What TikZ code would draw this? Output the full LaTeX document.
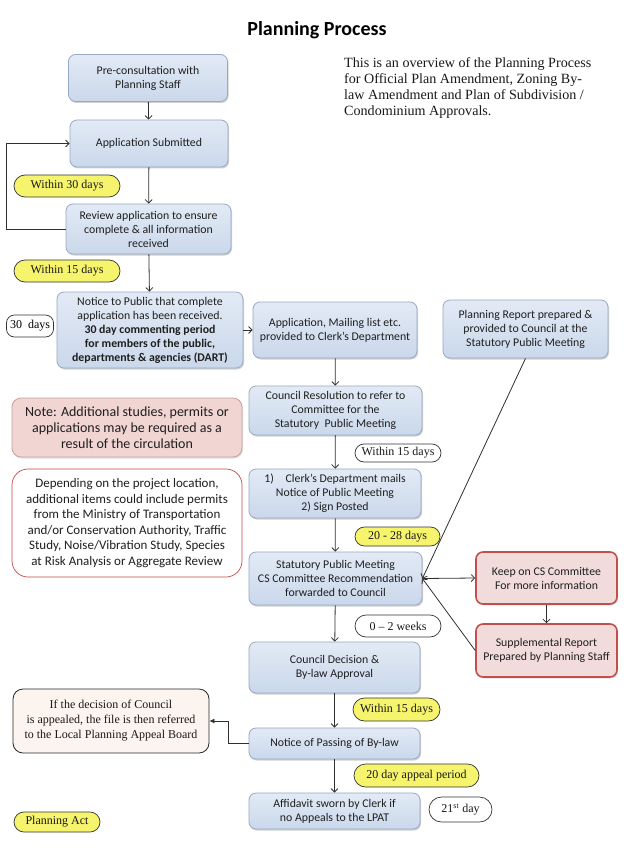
\documentclass[tikz,border=0pt]{standalone}
\usepackage{fontspec}
\setmainfont{Liberation Serif}
\newfontfamily\calib{Carlito}
\usetikzlibrary{arrows.meta,shapes.misc,shadows}
\definecolor{bluefill}{HTML}{D6E1F0}
\definecolor{bluetop}{HTML}{E2EAF5}
\definecolor{bluebot}{HTML}{CAD8EB}
\definecolor{blueline}{HTML}{97A9C4}
\definecolor{redfill}{HTML}{F2DCDB}
\definecolor{redline}{HTML}{C0504D}
\definecolor{notefill}{HTML}{F0D5D2}
\definecolor{noteline}{HTML}{C9A19C}
\definecolor{ylw}{HTML}{F6F36C}
\definecolor{appealfill}{HTML}{FCF4EE}
\definecolor{lnk}{HTML}{303030}
\tikzset{
  bbox/.style={rounded corners=7pt, draw=blueline, line width=0.8pt,
    top color=bluetop, bottom color=bluebot, align=center, inner sep=0pt,
    font=\calib\fontsize{11.8}{14}\selectfont, text=black!88,
    drop shadow={shadow xshift=1pt,shadow yshift=-1.5pt,fill=black!40,opacity=.45}},
  rbox/.style={rounded corners=7pt, draw=redline, line width=1.6pt, fill=redfill,
    align=center, inner sep=0pt, font=\calib\fontsize{11.8}{14}\selectfont, text=black!88,
    drop shadow={shadow xshift=1pt,shadow yshift=-1.5pt,fill=black!30,opacity=.4}},
  notebox/.style={rounded corners=9pt, draw=noteline, line width=0.8pt, fill=notefill,
    align=center, inner sep=0pt, font=\calib\fontsize{14}{16}\selectfont, text=black!88,
    drop shadow={shadow xshift=1pt,shadow yshift=-1.5pt,fill=black!30,opacity=.4}},
  depbox/.style={rounded corners=16pt, draw=redline!90!red, line width=0.7pt, fill=white,
    align=center, inner sep=0pt, font=\calib\fontsize{13}{15.6}\selectfont, text=black!88},
  apbox/.style={rounded corners=10pt, draw=black!85, line width=0.8pt, fill=appealfill,
    align=center, inner sep=0pt, font=\fontsize{12}{15}\selectfont, text=black!90},
  pill/.style={rounded rectangle, draw=black!80, line width=0.7pt, fill=white,
    inner sep=0pt, font=\fontsize{12}{14}\selectfont, text=black!90},
  ypill/.style={pill, fill=ylw},
  arr/.style={draw=lnk, line width=0.8pt, -{Straight Barb[length=3.5pt,width=7pt]}},
  farr/.style={draw=lnk, line width=0.8pt, -{Latex[length=5pt,width=5pt]}},
}
\begin{document}
\begin{tikzpicture}[x=1pt,y=-1pt]
\useasboundingbox[fill=white] (0,0) rectangle (633,850);

% title and description
\node[anchor=base, font=\calib\bfseries\fontsize{20}{24}\selectfont, inner sep=0] (title) at (317,36) {Planning Process};
\node[anchor=north west, align=left, inner sep=0, font=\fontsize{14.1}{16.2}\selectfont, text=black!90] (desc) at (344,57)
 {This is an overview of the Planning Process\\for Official Plan Amendment, Zoning By-\\law Amendment and Plan of Subdivision /\\Condominium Approvals.};

% left column
\node[bbox, minimum width=159, minimum height=47] (pre) at (148,78) {Pre-consultation with\\Planning Staff};
\node[bbox, minimum width=158, minimum height=47] (sub) at (149,143.5) {Application Submitted};
\node[ypill, minimum width=106, minimum height=22] (w30) at (67,186) {Within 30 days};
\node[bbox, minimum width=165, minimum height=50] (rev) at (148.5,229) {Review application to ensure\\complete \& all information\\received};
\node[ypill, minimum width=106, minimum height=22] (w15a) at (67,271) {Within 15 days};
\node[bbox, minimum width=186, minimum height=76] (notice) at (150,330)
 {Notice to Public that complete\\application has been received.\\\textbf{30 day commenting period}\\\textbf{for members of the public,}\\\textbf{departments \& agencies (DART)}};
\node[draw=black!80, line width=0.7pt, rounded corners=8pt, inner sep=0pt, minimum width=47, minimum height=22, font=\fontsize{12}{14}\selectfont] (d30) at (30,326) {30\ \ days};
\node[notebox, minimum width=230, minimum height=59] (note) at (127,427.5)
 {Note: Additional studies, permits or\\applications may be required as a\\result of the circulation};
\node[depbox, minimum width=230, minimum height=108] (dep) at (127,523)
 {Depending on the project location,\\additional items could include permits\\from the Ministry of Transportation\\and/or Conservation Authority, Traffic\\Study, Noise/Vibration Study, Species\\at Risk Analysis or Aggregate Review};
\node[apbox, minimum width=196, minimum height=64] (appeal) at (111,721)
 {If the decision of Council\\is appealed, the file is then referred\\to the Local Planning Appeal Board};
\node[ypill, minimum width=86, minimum height=20] (pact) at (57,822) {Planning Act};

% middle column
\node[bbox, minimum width=164, minimum height=56] (mail) at (335,330) {Application, Mailing list etc.\\provided to Clerk’s Department};
\node[bbox, minimum width=173, minimum height=49] (res) at (335.5,410.5) {Council Resolution to refer to\\Committee for the\\Statutory\ \ Public Meeting};
\node[pill, minimum width=86, minimum height=18] (w15b) at (398,453) {Within 15 days};
\node[bbox, minimum width=172, minimum height=49] (clerk) at (335,493.5) {1)\quad Clerk’s Department mails\\Notice of Public Meeting\\2) Sign Posted};
\node[ypill, minimum width=85, minimum height=19] (w2028) at (397.5,536.5) {20 - 28 days};
\node[bbox, minimum width=173, minimum height=53] (stat) at (335.5,578.5) {Statutory Public Meeting\\CS Committee Recommendation\\forwarded to Council};
\node[pill, minimum width=86, minimum height=22] (w02) at (398,626) {0 – 2 weeks};
\node[bbox, minimum width=171, minimum height=51] (dec) at (334.5,667.5) {Council Decision \&\\By-law Approval};
\node[ypill, minimum width=87, minimum height=23] (w15c) at (396.5,709.5) {Within 15 days};
\node[bbox, minimum width=171, minimum height=31] (pass) at (334.5,743.5) {Notice of Passing of By-law};
\node[ypill, minimum width=125, minimum height=23] (w20) at (416.5,775.5) {20 day appeal period};
\node[bbox, minimum width=171, minimum height=36] (aff) at (334.5,811) {Affidavit sworn by Clerk if\\no Appeals to the LPAT};
\node[pill, minimum width=63, minimum height=25] (d21) at (460.5,809.5) {21\textsuperscript{st} day};

% right column
\node[bbox, minimum width=165, minimum height=58] (prep) at (525.5,329) {Planning Report prepared \&\\provided to Council at the\\Statutory Public Meeting};
\node[rbox, minimum width=141, minimum height=52] (keep) at (546.5,578) {Keep on CS Committee\\For more information};
\node[rbox, minimum width=141, minimum height=53] (supp) at (546.5,650.5) {Supplemental Report\\Prepared by Planning Staff};

% connectors
\draw[arr] (pre) -- (sub);
\draw[arr] (sub) -- (rev);
\draw[arr] (rev) -- (notice);
\draw[arr] (rev.west) -- ++(-59,0) |- (sub.west);
\draw[arr] (notice.east |- mail.west) -- (mail.west);
\draw[arr] (mail) -- (res);
\draw[arr] (res) -- (clerk);
\draw[arr] (clerk) -- (stat);
\draw[arr] (stat) -- (dec);
\draw[arr] (dec) -- (pass);
\draw[arr] (pass) -- (aff);
\draw[arr] (prep.south) -- (stat.east);
\draw[arr] (stat.east) -- (keep.west);
\draw[arr] (keep) -- (supp);
\draw[arr] (supp.west) -- (stat.east);
\draw[farr] (pass.west) -- ++(-20,0) |- (appeal.east);
\end{tikzpicture}
\end{document}
